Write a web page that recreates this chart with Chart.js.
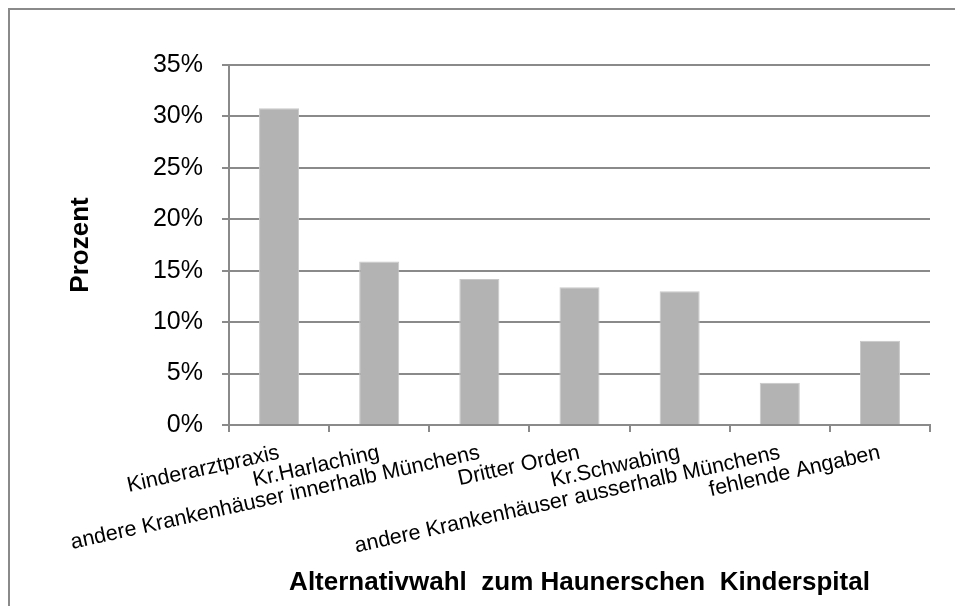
<!DOCTYPE html>
<html>
<head>
<meta charset="utf-8">
<script src="https://cdn.jsdelivr.net/npm/chart.js@4"></script>
<style>
  html, body { margin: 0; padding: 0; background: #fff; overflow: hidden; }
  #frame { position: absolute; left: 8px; top: 8px; width: 990px; height: 640px; border: 2px solid #8a8a8a; }
  #chart { position: absolute; left: 0; top: 0; }
</style>
</head>
<body>
<div id="frame"></div>
<canvas id="chart" width="955" height="606"></canvas>
<script>
const categories = [
  "Kinderarztpraxis",
  "Kr.Harlaching",
  "andere Krankenhäuser innerhalb Münchens",
  "Dritter Orden",
  "Kr.Schwabing",
  "andere Krankenhäuser ausserhalb Münchens",
  "fehlende Angaben",
];
const prozent = [30.8, 15.9, 14.2, 13.4, 13.0, 4.1, 8.2];
const yTicks = [0, 5, 10, 15, 20, 25, 30, 35];

const font = "'Liberation Sans', Arial, sans-serif";
const gray = "#8a8a8a";

new Chart(document.getElementById("chart"), {
  type: "bar",
  data: {
    labels: categories,
    datasets: [{
      label: "Prozent",
      data: prozent,
      backgroundColor: "#b3b3b3",
      borderColor: "#c8c8c8",
      borderWidth: 1,
      barPercentage: 0.4,
      categoryPercentage: 1,
    }],
  },
  options: {
    responsive: false,
    animation: false,
    devicePixelRatio: 1,
    layout: { padding: { top: 65, right: 25, left: 0, bottom: 0 } },
    plugins: { legend: { display: false }, tooltip: { enabled: false } },
    scales: {
      x: {
        afterFit: (s) => { s.height = 181; },
        grid: { drawOnChartArea: false, drawTicks: true, tickLength: 7, color: gray, lineWidth: 2 },
        border: { color: gray, width: 2 },
        ticks: {
          autoSkip: false,
          minRotation: 12.5,
          maxRotation: 12.5,
          padding: 8,
          color: "#000",
          font: { family: font, size: 21.5 },
        },
        title: {
          display: true,
          text: "Alternativwahl  zum Haunerschen  Kinderspital",
          color: "#000",
          font: { family: font, size: 26, weight: "bold" },
          padding: { top: 0, bottom: 8 },
        },
      },
      y: {
        min: 0,
        max: 35,
        afterFit: (s) => { s.width = 229; },
        afterBuildTicks: (s) => { s.ticks = yTicks.map((v) => ({ value: v })); },
        grid: { color: gray, lineWidth: 2, tickLength: 7 },
        border: { color: gray, width: 2 },
        ticks: {
          padding: 19,
          color: "#000",
          font: { family: font, size: 25 },
          callback: (v) => v + "%",
        },
        title: {
          display: true,
          text: "Prozent",
          color: "#000",
          font: { family: font, size: 26, weight: "bold" },
          padding: { top: 65, bottom: 0 },
        },
      },
    },
  },
});
</script>
</body>
</html>
